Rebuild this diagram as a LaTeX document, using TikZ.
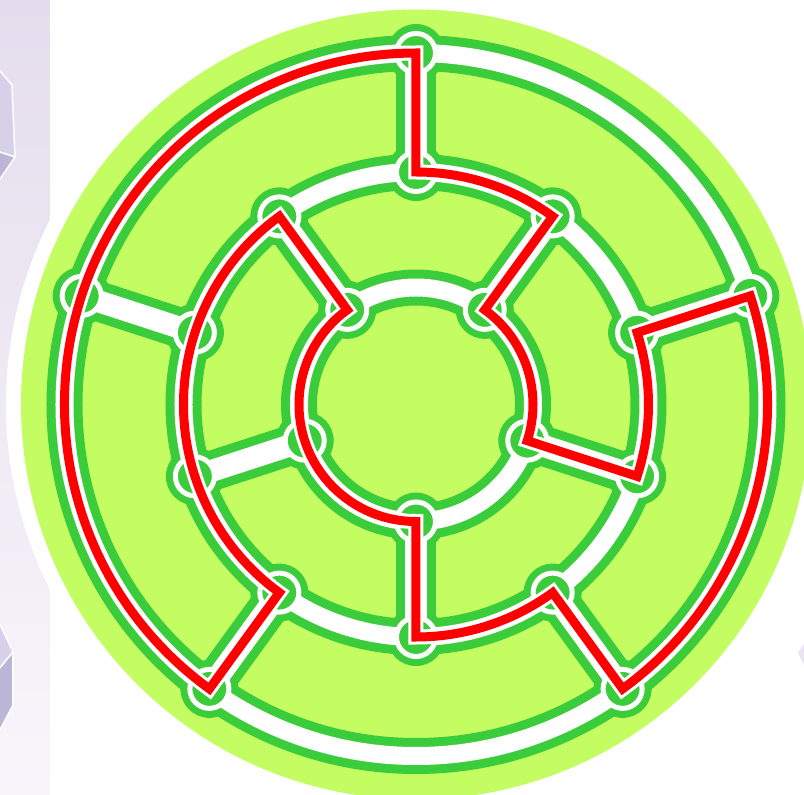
\documentclass[tikz,border=0pt]{standalone}
\definecolor{lime}{RGB}{195,253,98}
\definecolor{lanegreen}{RGB}{58,204,58}
\definecolor{pathred}{RGB}{255,0,0}
\definecolor{lavtop}{RGB}{229,221,237}
\definecolor{lavbot}{RGB}{248,246,251}
\definecolor{facelight}{RGB}{214,209,233}
\definecolor{facedark}{RGB}{187,181,216}
\definecolor{faceright}{RGB}{232,228,242}
\begin{document}
\begin{tikzpicture}[x=1pt,y=1pt,
  ringG/.style={draw=lanegreen,line width=36},
  ringW/.style={draw=white,line width=18},
  spokeG/.style={draw=lanegreen,line width=40},
  spokeW/.style={draw=white,line width=22},
  vtxback/.style={fill=lanegreen},
  vtx/.style={circle,fill=lanegreen,draw=white,line width=5,minimum size=39,inner sep=0pt,outer sep=0pt},
  redpath/.style={draw=pathred,line width=9,line join=miter,
    preaction={draw=white,line width=15,line join=miter}},
  face/.style={draw=white,line width=1.5,line join=round}]
\useasboundingbox (-416,-390.5) rectangle (388,404.5);
\clip (-416,-390.5) rectangle (388,404.5);
\fill[white] (-416,-390.5) rectangle (388,404.5);
\shade[top color=lavtop,bottom color=lavbot] (-416,-390.5) rectangle (-366,404.5);
% partial hexagons at left edge
\filldraw[face,fill=facelight] (-430,350) -- (-404,319.5) -- (-401,247.5) -- (-430,257) -- cycle;
\filldraw[face,fill=facedark] (-430,257) -- (-401,247.5) -- (-430,205) -- cycle;
\filldraw[face,fill=facelight] (-430,-190) -- (-403,-247.5) -- (-430,-280) -- cycle;
\filldraw[face,fill=facedark] (-430,-280) -- (-403,-247.5) -- (-403,-300.5) -- (-430,-352) -- cycle;
\fill[faceright] (382,-248.5) -- (390,-236) -- (390,-264) -- cycle;
% disks
\fill[white] (0,0) circle (410);
\fill[lime] (0,0) circle (395);
% vertices
\foreach \a in {90,162,234,306,18} \coordinate (O\a) at (\a:351.5);
\foreach \a in {90,126,162,198,234,270,306,342,18,54} \coordinate (M\a) at (\a:232.5);
\foreach \a in {54,126,198,270,342} \coordinate (I\a) at (\a:117);
% green lanes
\draw[ringG] (0,0) circle (351.5);
\draw[ringG] (0,0) circle (232.5);
\draw[ringG] (0,0) circle (117);
\foreach \a in {90,162,234,306,18} \draw[spokeG] (O\a) -- (M\a);
\foreach \a in {54,126,198,270,342} \draw[spokeG] (M\a) -- (I\a);
\foreach \a in {90,162,234,306,18} \fill[vtxback] (O\a) circle (29);
\foreach \a in {90,126,162,198,234,270,306,342,18,54} \fill[vtxback] (M\a) circle (29);
\foreach \a in {54,126,198,270,342} \fill[vtxback] (I\a) circle (29);
% white lanes
\draw[ringW] (0,0) circle (351.5);
\draw[ringW] (0,0) circle (232.5);
\draw[ringW] (0,0) circle (117);
\foreach \a in {90,162,234,306,18} \draw[spokeW] (O\a) -- (M\a);
\foreach \a in {54,126,198,270,342} \draw[spokeW] (M\a) -- (I\a);
% vertex dots
\foreach \a in {90,162,234,306,18} \node[vtx] (vO\a) at (O\a) {};
\foreach \a in {90,126,162,198,234,270,306,342,18,54} \node[vtx] (vM\a) at (M\a) {};
\foreach \a in {54,126,198,270,342} \node[vtx] (vI\a) at (I\a) {};
% Hamiltonian cycle
\path[redpath] (O90) -- (M90) arc[start angle=90,end angle=54,radius=232.5]
  -- (I54) arc[start angle=54,end angle=-18,radius=117]
  -- (M342) arc[start angle=-18,end angle=18,radius=232.5]
  -- (O18) arc[start angle=18,end angle=-54,radius=351.5]
  -- (M306) arc[start angle=-54,end angle=-90,radius=232.5]
  -- (I270) arc[start angle=270,end angle=126,radius=117]
  -- (M126) arc[start angle=126,end angle=234,radius=232.5]
  -- (O234) arc[start angle=234,end angle=90,radius=351.5] -- cycle;
\end{tikzpicture}
\end{document}
